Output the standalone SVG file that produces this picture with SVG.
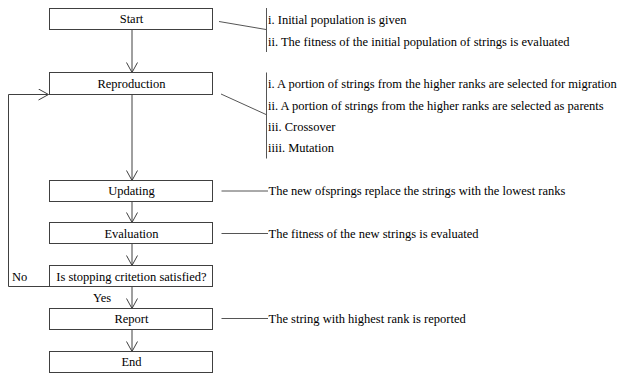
<svg xmlns="http://www.w3.org/2000/svg" width="621" height="375" viewBox="0 0 621 375">
<defs>
<marker id="arr" viewBox="0 0 12 12" refX="11" refY="6" markerWidth="12" markerHeight="12" markerUnits="userSpaceOnUse" orient="auto">
<path d="M1,0.5 L11,6 L1,11.5" fill="none" stroke="#404040" stroke-width="1"/>
</marker>
</defs>
<style>
.box{fill:#fff;stroke:#404040;stroke-width:1}
.ln{fill:none;stroke:#555;stroke-width:1}
.ar{fill:none;stroke:#404040;stroke-width:1;marker-end:url(#arr)}
</style>
<rect width="621" height="375" fill="#fff"/>
<g id="connectors">
<line class="ar" x1="132" y1="29.5" x2="132" y2="72.5"/>
<line class="ar" x1="132" y1="94.5" x2="132" y2="180.5"/>
<line class="ar" x1="132" y1="201.5" x2="132" y2="222.5"/>
<line class="ar" x1="132" y1="243.5" x2="132" y2="265.5"/>
<line class="ar" x1="132" y1="286.5" x2="132" y2="308.5"/>
<line class="ar" x1="132" y1="329.5" x2="132" y2="351.5"/>
<polyline class="ar" points="49,286.5 8.5,286.5 8.5,94.5 48.5,94.5"/>
<line class="ln" x1="219" y1="21.5" x2="266" y2="29.5"/>
<line class="ln" x1="221" y1="94" x2="266" y2="114.5"/>
<line class="ln" x1="221.5" y1="191" x2="268" y2="191"/>
<line class="ln" x1="221.5" y1="233.5" x2="268" y2="233.5"/>
<line class="ln" x1="221.5" y1="318.5" x2="268" y2="318.5"/>
<line class="ln" x1="266.5" y1="8" x2="266.5" y2="52"/>
<line class="ln" x1="266.5" y1="72.5" x2="266.5" y2="158.5"/>
<g font-family="Liberation Serif" font-size="12.5" fill="#000">
<text x="12" y="281">No</text>
<text x="93" y="301.5">Yes</text>
</g>
</g>
<g font-family="Liberation Serif" font-size="12.5" fill="#000" text-anchor="middle">
<g id="start">
<rect class="box" x="49.5" y="8.5" width="163" height="21"/>
<text x="131.5" y="23">Start</text>
</g>
<g id="reproduction">
<rect class="box" x="49.5" y="72.5" width="163" height="22"/>
<text x="131.5" y="87.5">Reproduction</text>
</g>
<g id="updating">
<rect class="box" x="49.5" y="180.5" width="163" height="21"/>
<text x="131.5" y="195">Updating</text>
</g>
<g id="evaluation">
<rect class="box" x="49.5" y="222.5" width="163" height="21"/>
<text x="131.5" y="237.5">Evaluation</text>
</g>
<g id="decision">
<rect class="box" x="49.5" y="265.5" width="163" height="21"/>
<text x="131.5" y="281">Is stopping critetion satisfied?</text>
</g>
<g id="report">
<rect class="box" x="49.5" y="308.5" width="163" height="21"/>
<text x="131.5" y="323">Report</text>
</g>
<g id="end">
<rect class="box" x="49.5" y="351.5" width="163" height="21"/>
<text x="131.5" y="366">End</text>
</g>
</g>
<g font-family="Liberation Serif" font-size="12.5" fill="#000">
<g id="note-start">
<text x="268" y="23.5">i. Initial population is given</text>
<text x="268" y="45.5">ii. The fitness of the initial population of strings is evaluated</text>
</g>
<g id="note-reproduction">
<text x="268" y="88">i. A portion of strings from the higher ranks are selected for migration</text>
<text x="268" y="109.5">ii. A portion of strings from the higher ranks are selected as parents</text>
<text x="268" y="131">iii. Crossover</text>
<text x="268" y="152">iiii. Mutation</text>
</g>
<g id="note-updating">
<text x="268.5" y="195">The new ofsprings replace the strings with the lowest ranks</text>
</g>
<g id="note-evaluation">
<text x="268.5" y="237.5">The fitness of the new strings is evaluated</text>
</g>
<g id="note-report">
<text x="268.5" y="322.5">The string with highest rank is reported</text>
</g>
</g>
</svg>
